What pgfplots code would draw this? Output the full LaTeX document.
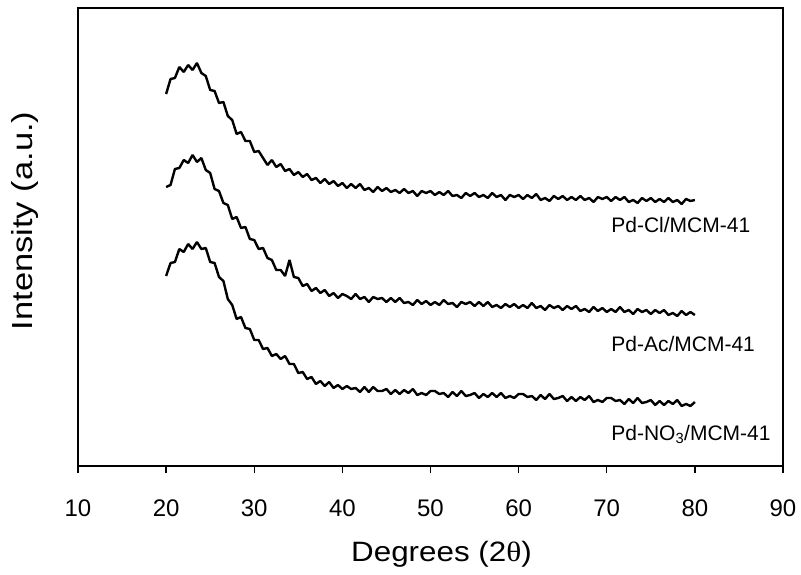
\documentclass[border=0pt]{standalone}
\usepackage{fontspec}
\setmainfont{Liberation Sans}
\newfontfamily\greekserif{Liberation Serif}
\usepackage{graphicx}
\usepackage{pgfplots}
\pgfplotsset{compat=1.18}
\begin{document}
\begin{tikzpicture}
\useasboundingbox (-78pt,-108pt) rectangle (723pt,466pt);
\begin{axis}[
  at={(0pt,0pt)}, anchor=south west,
  scale only axis, width=705pt, height=458pt,
  xmin=10, xmax=90, ymin=-466, ymax=-8,
  xtick={10,20,...,90},
  ytick=\empty,
  xtick pos=left,
  tick align=outside,
  major tick length=7pt,
  tick style={line width=1.3pt, black},
  axis line style={line width=1.6pt, black},
  /pgf/number format/assume math mode=true,
  xticklabel style={font=\fontsize{24}{24}\selectfont, anchor=base, yshift=-43pt},
  xlabel={\scalebox{1.12}[1]{Degrees (2{\greekserif θ})}},
  xlabel style={font=\fontsize{28}{28}\selectfont, anchor=base, at={([xshift=11pt,yshift=-95pt]axis description cs:0.5,0)}},
  ylabel={\scalebox{1.19}[1]{Intensity (a.u.)}},
  ylabel style={font=\fontsize{29}{29}\selectfont, anchor=base, at={([xshift=-45pt,yshift=16pt]axis description cs:0,0.5)}},
  every axis plot/.append style={line width=2.4pt, black, line join=bevel},
]
% Pd-Cl/MCM-41
\addplot[mark=none] coordinates {
(20.0,-94)(20.5,-79)(21.0,-78)(21.5,-67)(22.0,-72)(22.5,-65)(23.0,-70)(23.5,-63)(24.0,-73)(24.5,-76)
(25.0,-90)(25.5,-91)(26.0,-103)(26.5,-102)(27.0,-116)(27.5,-120)(28.0,-134)(28.5,-132)(29.0,-141)(29.5,-141)
(30.0,-152)(30.5,-151)(31.0,-158)(31.5,-165)(32.0,-160)(32.5,-167)(33.0,-164)(33.5,-171)(34.0,-169)(34.5,-175)
(35.0,-172)(35.5,-177)(36.0,-174)(36.5,-180)(37.0,-178)(37.5,-183)(38.0,-179)(38.5,-184)(39.0,-181)(39.5,-186)
(40.0,-183)(40.5,-188)(41.0,-184)(41.5,-188)(42.0,-184)(42.5,-190)(43.0,-188)(43.5,-192)(44.0,-187)(44.5,-191)
(45.0,-188)(45.5,-192)(46.0,-190)(46.5,-193)(47.0,-189)(47.5,-193)(48.0,-191)(48.5,-196)(49.0,-191)(49.5,-193)
(50.0,-191)(50.5,-195)(51.0,-192)(51.5,-195)(52.0,-191)(52.5,-196)(53.0,-195)(53.5,-198)(54.0,-193)(54.5,-196)
(55.0,-193)(55.5,-197)(56.0,-195)(56.5,-198)(57.0,-193)(57.5,-197)(58.0,-195)(58.5,-200)(59.0,-195)(59.5,-197)
(60.0,-195)(60.5,-199)(61.0,-195)(61.5,-198)(62.0,-194)(62.5,-200)(63.0,-198)(63.5,-201)(64.0,-196)(64.5,-199)
(65.0,-196)(65.5,-200)(66.0,-197)(66.5,-200)(67.0,-196)(67.5,-200)(68.0,-198)(68.5,-202)(69.0,-197)(69.5,-199)
(70.0,-197)(70.5,-201)(71.0,-197)(71.5,-200)(72.0,-197)(72.5,-202)(73.0,-200)(73.5,-203)(74.0,-198)(74.5,-201)
(75.0,-198)(75.5,-202)(76.0,-199)(76.5,-202)(77.0,-198)(77.5,-202)(78.0,-200)(78.5,-204)(79.0,-199)(79.5,-201)
(80.0,-200)
};
% Pd-Ac/MCM-41
\addplot[mark=none] coordinates {
(20.0,-187)(20.5,-185)(21.0,-169)(21.5,-168)(22.0,-160)(22.5,-163)(23.0,-155)(23.5,-162)(24.0,-158)(24.5,-170)
(25.0,-173)(25.5,-189)(26.0,-191)(26.5,-203)(27.0,-205)(27.5,-219)(28.0,-217)(28.5,-228)(29.0,-227)(29.5,-239)
(30.0,-240)(30.5,-249)(31.0,-248)(31.5,-258)(32.0,-260)(32.5,-270)(33.0,-270)(33.5,-276)(34.0,-260)(34.5,-277)
(35.0,-278)(35.5,-286)(36.0,-284)(36.5,-291)(37.0,-288)(37.5,-293)(38.0,-290)(38.5,-296)(39.0,-293)(39.5,-298)
(40.0,-294)(40.5,-296)(41.0,-299)(41.5,-294)(42.0,-299)(42.5,-297)(43.0,-302)(43.5,-297)(44.0,-299)(44.5,-298)
(45.0,-302)(45.5,-298)(46.0,-302)(46.5,-298)(47.0,-303)(47.5,-302)(48.0,-305)(48.5,-300)(49.0,-304)(49.5,-301)
(50.0,-305)(50.5,-302)(51.0,-305)(51.5,-300)(52.0,-304)(52.5,-303)(53.0,-307)(53.5,-302)(54.0,-304)(54.5,-302)
(55.0,-306)(55.5,-302)(56.0,-306)(56.5,-302)(57.0,-307)(57.5,-305)(58.0,-308)(58.5,-304)(59.0,-307)(59.5,-304)
(60.0,-308)(60.5,-305)(61.0,-308)(61.5,-303)(62.0,-308)(62.5,-306)(63.0,-310)(63.5,-305)(64.0,-308)(64.5,-306)
(65.0,-310)(65.5,-306)(66.0,-309)(66.5,-306)(67.0,-311)(67.5,-309)(68.0,-312)(68.5,-307)(69.0,-311)(69.5,-308)
(70.0,-312)(70.5,-309)(71.0,-312)(71.5,-307)(72.0,-312)(72.5,-310)(73.0,-314)(73.5,-309)(74.0,-312)(74.5,-310)
(75.0,-314)(75.5,-310)(76.0,-313)(76.5,-310)(77.0,-315)(77.5,-313)(78.0,-316)(78.5,-311)(79.0,-315)(79.5,-312)
(80.0,-315)
};
% Pd-NO3/MCM-41
\addplot[mark=none] coordinates {
(20.0,-276)(20.5,-263)(21.0,-262)(21.5,-249)(22.0,-252)(22.5,-244)(23.0,-249)(23.5,-242)(24.0,-249)(24.5,-248)
(25.0,-262)(25.5,-263)(26.0,-277)(26.5,-281)(27.0,-299)(27.5,-305)(28.0,-319)(28.5,-317)(29.0,-328)(29.5,-329)
(30.0,-340)(30.5,-340)(31.0,-349)(31.5,-348)(32.0,-356)(32.5,-354)(33.0,-359)(33.5,-356)(34.0,-364)(34.5,-364)
(35.0,-373)(35.5,-372)(36.0,-379)(36.5,-377)(37.0,-384)(37.5,-381)(38.0,-386)(38.5,-382)(39.0,-388)(39.5,-385)
(40.0,-389)(40.5,-386)(41.0,-389)(41.5,-388)(42.0,-392)(42.5,-387)(43.0,-392)(43.5,-387)(44.0,-391)(44.5,-391)
(45.0,-389)(45.5,-394)(46.0,-390)(46.5,-394)(47.0,-390)(47.5,-393)(48.0,-389)(48.5,-395)(49.0,-393)(49.5,-395)
(50.0,-391)(50.5,-391)(51.0,-394)(51.5,-393)(52.0,-397)(52.5,-392)(53.0,-396)(53.5,-391)(54.0,-396)(54.5,-395)
(55.0,-393)(55.5,-398)(56.0,-394)(56.5,-397)(57.0,-393)(57.5,-397)(58.0,-393)(58.5,-398)(59.0,-396)(59.5,-398)
(60.0,-394)(60.5,-394)(61.0,-397)(61.5,-396)(62.0,-400)(62.5,-395)(63.0,-399)(63.5,-394)(64.0,-399)(64.5,-398)
(65.0,-396)(65.5,-401)(66.0,-397)(66.5,-401)(67.0,-397)(67.5,-400)(68.0,-396)(68.5,-402)(69.0,-400)(69.5,-402)
(70.0,-398)(70.5,-398)(71.0,-401)(71.5,-400)(72.0,-404)(72.5,-399)(73.0,-403)(73.5,-398)(74.0,-403)(74.5,-402)
(75.0,-400)(75.5,-405)(76.0,-401)(76.5,-405)(77.0,-401)(77.5,-404)(78.0,-400)(78.5,-406)(79.0,-404)(79.5,-406)
(80.0,-402)
};
\node[anchor=base west, inner sep=0pt, font=\fontsize{21}{21}\selectfont] at (axis cs:70.5,-232) {Pd-Cl/MCM-41};
\node[anchor=base west, inner sep=0pt, font=\fontsize{21}{21}\selectfont] at (axis cs:70.5,-351) {Pd-Ac/MCM-41};
\node[anchor=base west, inner sep=0pt, font=\fontsize{21}{21}\selectfont] at (axis cs:70.5,-440) {Pd-NO\textsubscript{3}/MCM-41};
\end{axis}
\fill[black] (-0.9pt,457.1pt) rectangle (705.9pt,458.9pt);
\fill[black] (704.1pt,-0.9pt) rectangle (705.9pt,458.9pt);
\end{tikzpicture}
\end{document}
